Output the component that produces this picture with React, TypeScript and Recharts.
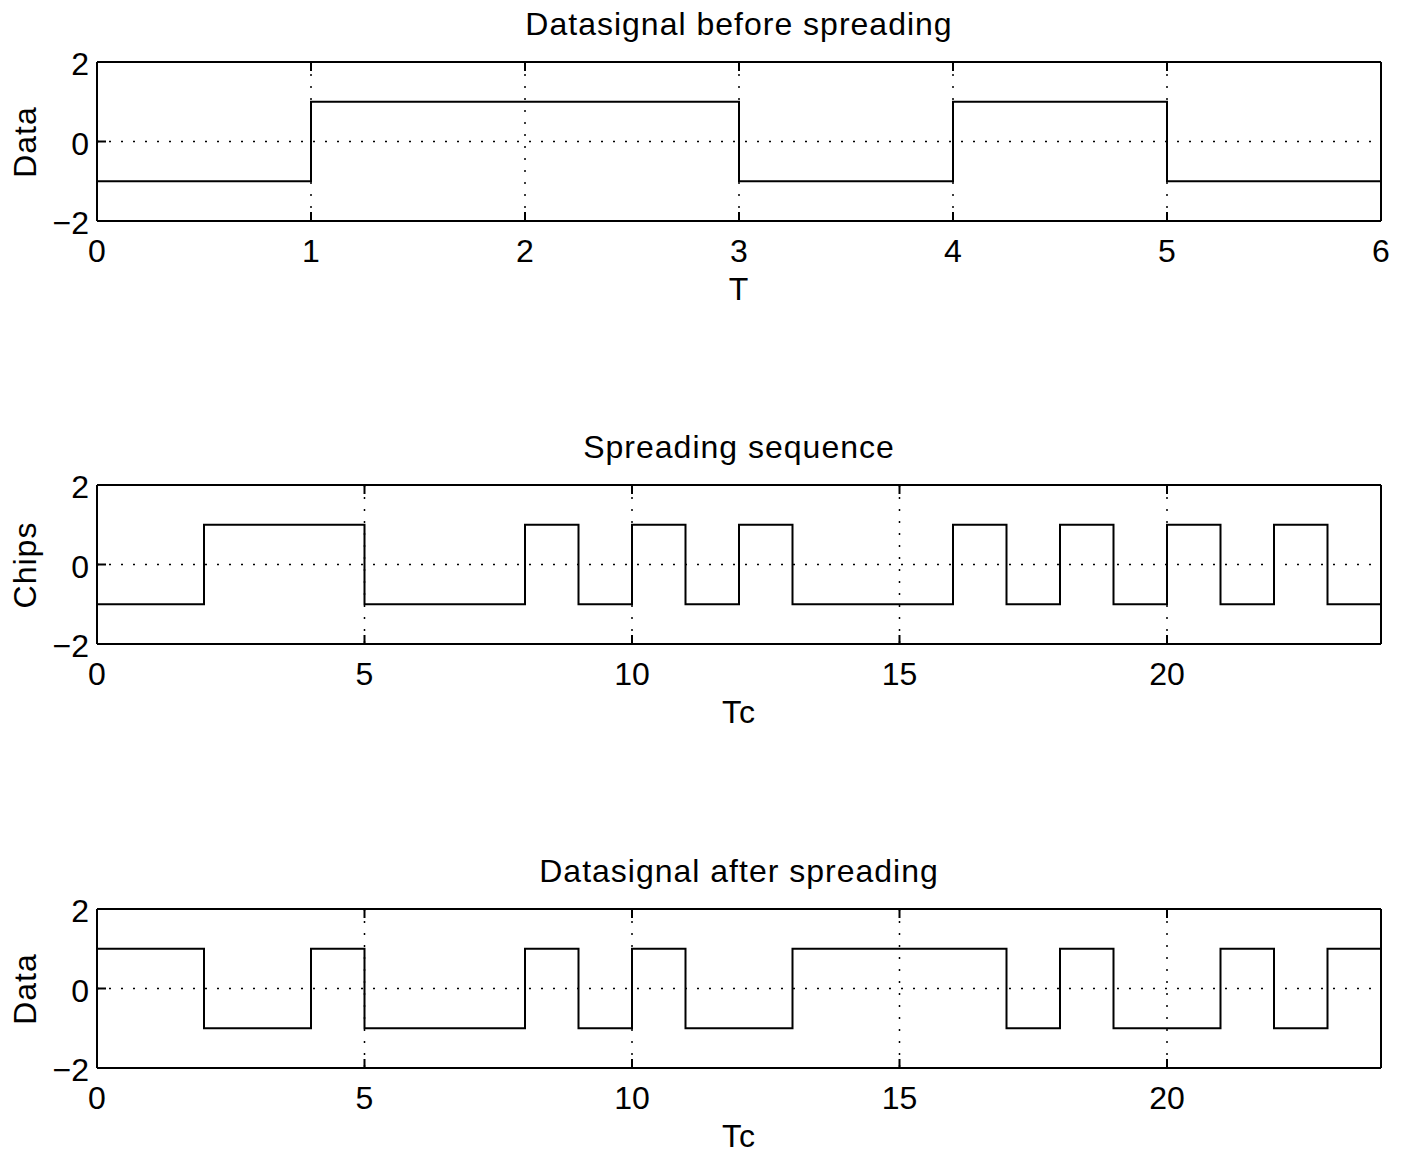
import React from "react";
import {
	LineChart,
	Line,
	XAxis,
	YAxis,
	CartesianGrid,
} from "recharts";

// data bits, one per T
const bitValues = [-1, 1, 1, -1, 1, -1];
// spreading code, one per chip Tc
const chipValues = [
	-1, -1, 1, 1, 1, -1, -1, -1, 1, -1, 1, -1, 1, -1, -1, -1, 1, -1, 1, -1, 1, -1, 1, -1,
];
// data after spreading, one per chip Tc
const spreadValues = [
	1, 1, -1, -1, 1, -1, -1, -1, 1, -1, 1, -1, -1, 1, 1, 1, 1, -1, 1, -1, -1, 1, -1, 1,
];

const bitTicks = [0, 1, 2, 3, 4, 5, 6];
const chipTicks = [0, 5, 10, 15, 20];
const yTicks = [-2, 0, 2];

const FONT = '"Liberation Sans", Arial, Helvetica, sans-serif';
const W = 1407;
const H = 307;

// step rows: one point per interval plus the closing point
const toRows = (vals: number[]) => [
	...vals.map((v, i) => ({ t: i, v })),
	{ t: vals.length, v: vals[vals.length - 1] },
];

const fmt = (v: number) => (v < 0 ? "\u2212" + Math.abs(v) : String(v));

const BottomTick = ({ x, y, payload }: any) => (
	<g>
		<line x1={x} x2={x} y1={y} y2={y - 9} stroke="#000" strokeWidth={2} />
		<text x={x} y={y + 41} textAnchor="middle" fontSize={32} fontFamily={FONT} fill="#000">
			{payload.value}
		</text>
	</g>
);

const TopTick = ({ x, y }: any) => (
	<line x1={x} x2={x} y1={y} y2={y + 9} stroke="#000" strokeWidth={2} />
);

const LeftTick = ({ x, y, payload }: any) => (
	<g>
		<line x1={x} x2={x + 9} y1={y} y2={y} stroke="#000" strokeWidth={2} />
		<text x={x - 8} y={y + 13} textAnchor="end" fontSize={32} fontFamily={FONT} fill="#000">
			{fmt(payload.value)}
		</text>
	</g>
);

const RightTick = ({ x, y }: any) => (
	<line x1={x} x2={x - 9} y1={y} y2={y} stroke="#000" strokeWidth={2} />
);

const textStyle: React.CSSProperties = {
	position: "absolute",
	fontFamily: FONT,
	fontSize: 32,
	lineHeight: 1,
	color: "#000",
	whiteSpace: "nowrap",
};

interface PanelProps {
	top: number;
	title: string;
	xLabel: string;
	yLabel: string;
	values: number[];
	xTicks: number[];
}

const Panel = ({ top, title, xLabel, yLabel, values, xTicks }: PanelProps) => {
	const rows = toRows(values);
	const xMax = values.length;
	return (
		<div style={{ position: "absolute", left: 0, top, width: W, height: H }}>
			<LineChart
				width={W}
				height={H}
				data={rows}
				margin={{ top: 60, right: 24, bottom: 46, left: 57 }}
			>
				<CartesianGrid stroke="#000" strokeWidth={1.5} strokeDasharray="2 10" />
				<XAxis
					dataKey="t"
					type="number"
					domain={[0, xMax]}
					ticks={xTicks}
					height={40}
					tickSize={0}
					tickMargin={0}
					tickLine={false}
					axisLine={{ stroke: "#000", strokeWidth: 2 }}
					tick={<BottomTick />}
					interval={0}
				/>
				<XAxis
					xAxisId="top"
					orientation="top"
					dataKey="t"
					type="number"
					domain={[0, xMax]}
					ticks={xTicks}
					height={2}
					tickSize={0}
					tickMargin={0}
					tickLine={false}
					axisLine={{ stroke: "#000", strokeWidth: 2 }}
					tick={<TopTick />}
					interval={0}
				/>
				<YAxis
					type="number"
					domain={[-2, 2]}
					ticks={yTicks}
					width={40}
					tickSize={0}
					tickMargin={0}
					tickLine={false}
					axisLine={{ stroke: "#000", strokeWidth: 2 }}
					tick={<LeftTick />}
					interval={0}
				/>
				<YAxis
					yAxisId="right"
					orientation="right"
					type="number"
					domain={[-2, 2]}
					ticks={yTicks}
					width={2}
					tickSize={0}
					tickMargin={0}
					tickLine={false}
					axisLine={{ stroke: "#000", strokeWidth: 2 }}
					tick={<RightTick />}
					interval={0}
				/>
				<Line
					type="stepAfter"
					dataKey="v"
					stroke="#000"
					strokeWidth={2}
					dot={false}
					activeDot={false}
					isAnimationActive={false}
				/>
			</LineChart>
			<div style={{ ...textStyle, left: 97, width: 1284, top: 8, textAlign: "center", letterSpacing: 1 }}>
				{title}
			</div>
			<div style={{ ...textStyle, left: 97, width: 1284, top: 273, textAlign: "center", letterSpacing: 1 }}>
				{xLabel}
			</div>
			<div
				style={{
					...textStyle,
					left: 25,
					top: 142,
					letterSpacing: 1,
					transform: "translate(-50%, -50%) rotate(-90deg)",
				}}
			>
				{yLabel}
			</div>
		</div>
	);
};

export default function App() {
	return (
		<div style={{ position: "absolute", left: 0, top: 0, width: W, height: 1154, background: "#fff" }}>
			<Panel
				top={0}
				title="Datasignal before spreading"
				xLabel="T"
				yLabel="Data"
				values={bitValues}
				xTicks={bitTicks}
			/>
			<Panel
				top={423}
				title="Spreading sequence"
				xLabel="Tc"
				yLabel="Chips"
				values={chipValues}
				xTicks={chipTicks}
			/>
			<Panel
				top={847}
				title="Datasignal after spreading"
				xLabel="Tc"
				yLabel="Data"
				values={spreadValues}
				xTicks={chipTicks}
			/>
		</div>
	);
}
